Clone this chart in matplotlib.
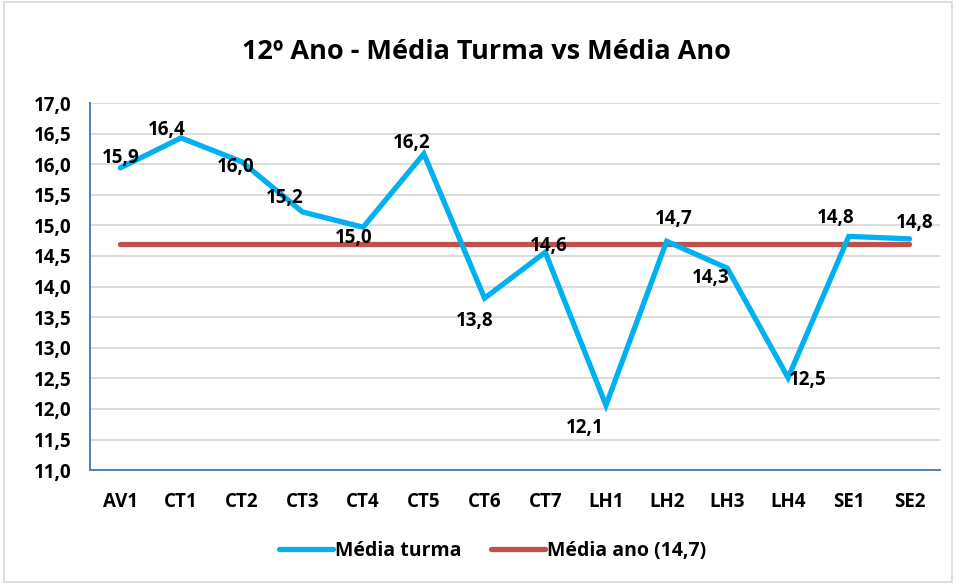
import matplotlib
matplotlib.use("Agg")
import matplotlib.pyplot as plt
import matplotlib.patches as mpatches
import numpy as np

plt.rcParams["font.family"] = ["Open Sans", "DejaVu Sans"]
plt.rcParams["font.weight"] = "bold"

# ── Data ────────────────────────────────────────────────────────────────
categories = ["AV1", "CT1", "CT2", "CT3", "CT4", "CT5", "CT6", "CT7",
              "LH1", "LH2", "LH3", "LH4", "SE1", "SE2"]
media_turma = [15.94, 16.43, 16.04, 15.22, 14.97, 16.17, 13.81, 14.56,
               12.06, 14.74, 14.30, 12.51, 14.82, 14.78]
media_ano = 14.7
y_ticks = np.arange(11.0, 17.01, 0.5)

# label offsets (pixels, y downward) for each data label
label_offsets = [(0, -10), (-14, -8), (-6, 5), (-18, -14), (-9, 11), (-12, -11),
                 (-10, 23), (3, -6), (-21, 23), (7, -22), (-17, 10), (20, 2),
                 (-13, -18), (5, -16)]

C_TURMA = "#00B0F0"
C_ANO = "#C0504D"
C_AXIS = "#4F81BD"

fig = plt.figure(figsize=(9.56, 5.84), dpi=100)
fig.patches.append(mpatches.Rectangle((0.004, 0.004), 0.992, 0.992,
                                      transform=fig.transFigure,
                                      fill=False, edgecolor="#D9D9D9", lw=1.2))
ax = fig.add_axes([0.0941, 0.195, 0.889, 0.6286])

x = np.arange(len(categories))
ax.plot(x, media_turma, color=C_TURMA, lw=3.8, solid_capstyle="round",
        solid_joinstyle="miter", label="Média turma", zorder=3)
ax.plot(x, [media_ano] * len(x), color=C_ANO, lw=3.8, solid_capstyle="round",
        label="Média ano (14,7)", zorder=2)

for xi, v, (dx, dy) in zip(x, media_turma, label_offsets):
    ax.annotate(f"{v:.1f}".replace(".", ","), xy=(xi, v),
                xytext=(dx * 0.72, -dy * 0.72), textcoords="offset points",
                ha="center", va="center", fontsize=13.5, fontweight="bold",
                color="black", zorder=4)

ax.set_xlim(-0.5, len(categories) - 0.5)
ax.set_ylim(11.0, 17.0)
ax.set_yticks(y_ticks)
ax.set_yticklabels([f"{t:.1f}".replace(".", ",") for t in y_ticks],
                   fontsize=13.5, fontweight="bold")
ax.set_xticks(x)
ax.set_xticklabels(categories, fontsize=13.5, fontweight="bold")
ax.tick_params(axis="both", length=0)
ax.tick_params(axis="x", pad=16)
ax.tick_params(axis="y", pad=13)

ax.yaxis.grid(True, color="#D9D9D9", lw=1.3)
ax.xaxis.grid(False)
ax.set_axisbelow(True)
for side in ["top", "right"]:
    ax.spines[side].set_visible(False)
for side in ["left", "bottom"]:
    ax.spines[side].set_color(C_AXIS)
    ax.spines[side].set_linewidth(1.4)

fig.text(0.509, 0.911, "12º Ano - Média Turma vs Média Ano", ha="center",
         va="center", fontsize=19.5, fontweight="bold")

fig.legend(loc="center", bbox_to_anchor=(0.515, 0.056), ncol=2, frameon=False,
           prop={"size": 14, "weight": "bold"}, handlelength=2.8,
           handletextpad=0.1, columnspacing=1.5)

fig.savefig("out.png", dpi=100)
